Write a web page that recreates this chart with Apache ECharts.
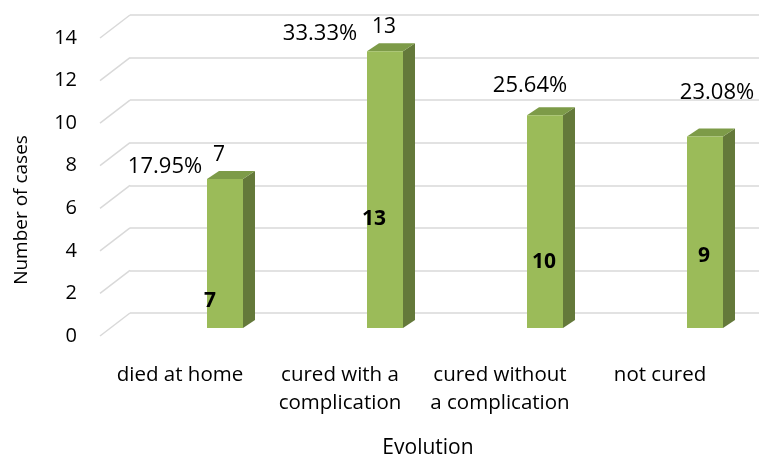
<!DOCTYPE html>
<html>
<head>
<meta charset="utf-8">
<script src="https://cdn.jsdelivr.net/npm/echarts@6/dist/echarts.min.js"></script>
<style>html,body{margin:0;padding:0;background:#fff}#c{width:759px;height:458px}</style>
</head>
<body>
<div id="c"></div>
<script>
// ---- data ----
var categories = ['died at home', 'cured with a\ncomplication', 'cured without\na complication', 'not cured'];
var cases = [7, 13, 10, 9];
var percentLabels = ['17.95%', '33.33%', '25.64%', '23.08%'];
var showTopValue = [true, true, false, false];
var yTicks = [0, 2, 4, 6, 8, 10, 12, 14];

// ---- layout / style (label placement as in the original) ----
var pctOffset = [[-60, -12], [-65, -18], [-15, -29], [12, -44]];
var insideOffset = [[-15, -27], [-11, -109], [-1, -66], [-1, -72]];
var topValOffset = [[-6, -24], [-1, -24], [0, -24], [0, -24]];
var FONT = '"Open Sans", sans-serif';
var BAR_SHIFT = 27, BAR_W = 36, DX = 12, DY = -8;
var C_FRONT = '#9bbb59', C_SIDE = '#64793a', C_TOP = '#7d9b48';

var chart = echarts.init(document.getElementById('c'));
var option = {
  animation: false,
  backgroundColor: '#fff',
  grid: [
    {left: 130, right: 0, top: 15, bottom: 145},   // back wall
    {left: 100, right: 19, top: 38, bottom: 122},  // front (labels)
    {left: 100, right: 19, top: 30, bottom: 130}   // bars
  ],
  xAxis: [
    {gridIndex: 0, type: 'value', min: 0, max: 1, show: false},
    {gridIndex: 1, type: 'category', data: categories,
      axisLine: {show: false}, axisTick: {show: false},
      axisLabel: {interval: 0, fontFamily: FONT, fontSize: 20.5, color: '#000', margin: 25, lineHeight: 28}},
    {gridIndex: 2, type: 'category', data: categories, show: false}
  ],
  yAxis: [
    {gridIndex: 0, type: 'value', min: 0, max: 14, interval: 2,
      axisLine: {show: false}, axisTick: {show: false}, axisLabel: {show: false},
      splitLine: {lineStyle: {color: '#d9d9d9', width: 1.5}}},
    {gridIndex: 1, type: 'value', min: 0, max: 14, interval: 2,
      axisLine: {show: false}, axisTick: {show: false}, splitLine: {show: false},
      axisLabel: {fontFamily: FONT, fontSize: 20, color: '#000', margin: 23}},
    {gridIndex: 2, type: 'value', min: 0, max: 14, show: false}
  ],
  graphic: [
    {type: 'text', x: 22, y: 210, rotation: Math.PI / 2,
      style: {text: 'Number of cases', fontFamily: FONT, fontSize: 19, fill: '#000', align: 'center', verticalAlign: 'middle'}},
    {type: 'text', x: 428, y: 448,
      style: {text: 'Evolution', fontFamily: FONT, fontSize: 21, fill: '#000', align: 'center', verticalAlign: 'middle'}}
  ],
  series: [
    {
      type: 'custom', xAxisIndex: 0, yAxisIndex: 0, clip: false, silent: true,
      data: yTicks,
      renderItem: function (params, api) {
        var p = api.coord([0, api.value(0)]);
        return {type: 'line', shape: {x1: p[0], y1: p[1], x2: p[0] - 30, y2: p[1] + 23},
          style: {stroke: '#d9d9d9', lineWidth: 1.5}};
      }
    },
    {
      type: 'custom', xAxisIndex: 2, yAxisIndex: 2, clip: false, silent: true,
      data: cases.map(function (v, i) { return [i, v]; }),
      renderItem: function (params, api) {
        var i = api.value(0), v = api.value(1);
        var p0 = api.coord([i, 0]), p1 = api.coord([i, v]);
        var x0 = p0[0] + BAR_SHIFT;
        var yb = p0[1], yt = p1[1];
        var cx = x0 + BAR_W / 2;
        var children = [
          {type: 'polygon', shape: {points: [[x0 + BAR_W, yt], [x0 + BAR_W + DX, yt + DY], [x0 + BAR_W + DX, yb + DY], [x0 + BAR_W, yb]]},
            style: {fill: C_SIDE}},
          {type: 'polygon', shape: {points: [[x0, yt], [x0 + DX, yt + DY], [x0 + BAR_W + DX, yt + DY], [x0 + BAR_W, yt]]},
            style: {fill: C_TOP}},
          {type: 'rect', shape: {x: x0, y: yt, width: BAR_W, height: yb - yt}, style: {fill: C_FRONT}},
          {type: 'text', x: cx + insideOffset[i][0], y: yb + insideOffset[i][1],
            style: {text: String(cases[i]), fontFamily: FONT, fontSize: 21, fontWeight: 'bold', fill: '#000', align: 'center', verticalAlign: 'middle'}},
          {type: 'text', x: cx + pctOffset[i][0], y: yt + pctOffset[i][1],
            style: {text: percentLabels[i], fontFamily: FONT, fontSize: 22, fill: '#000', align: 'center', verticalAlign: 'middle'}}
        ];
        if (showTopValue[i]) {
          children.push({type: 'text', x: cx + topValOffset[i][0], y: yt + topValOffset[i][1],
            style: {text: String(cases[i]), fontFamily: FONT, fontSize: 21, fill: '#000', align: 'center', verticalAlign: 'middle'}});
        }
        return {type: 'group', children: children};
      }
    }
  ]
};
chart.setOption(option);
</script>
</body>
</html>
